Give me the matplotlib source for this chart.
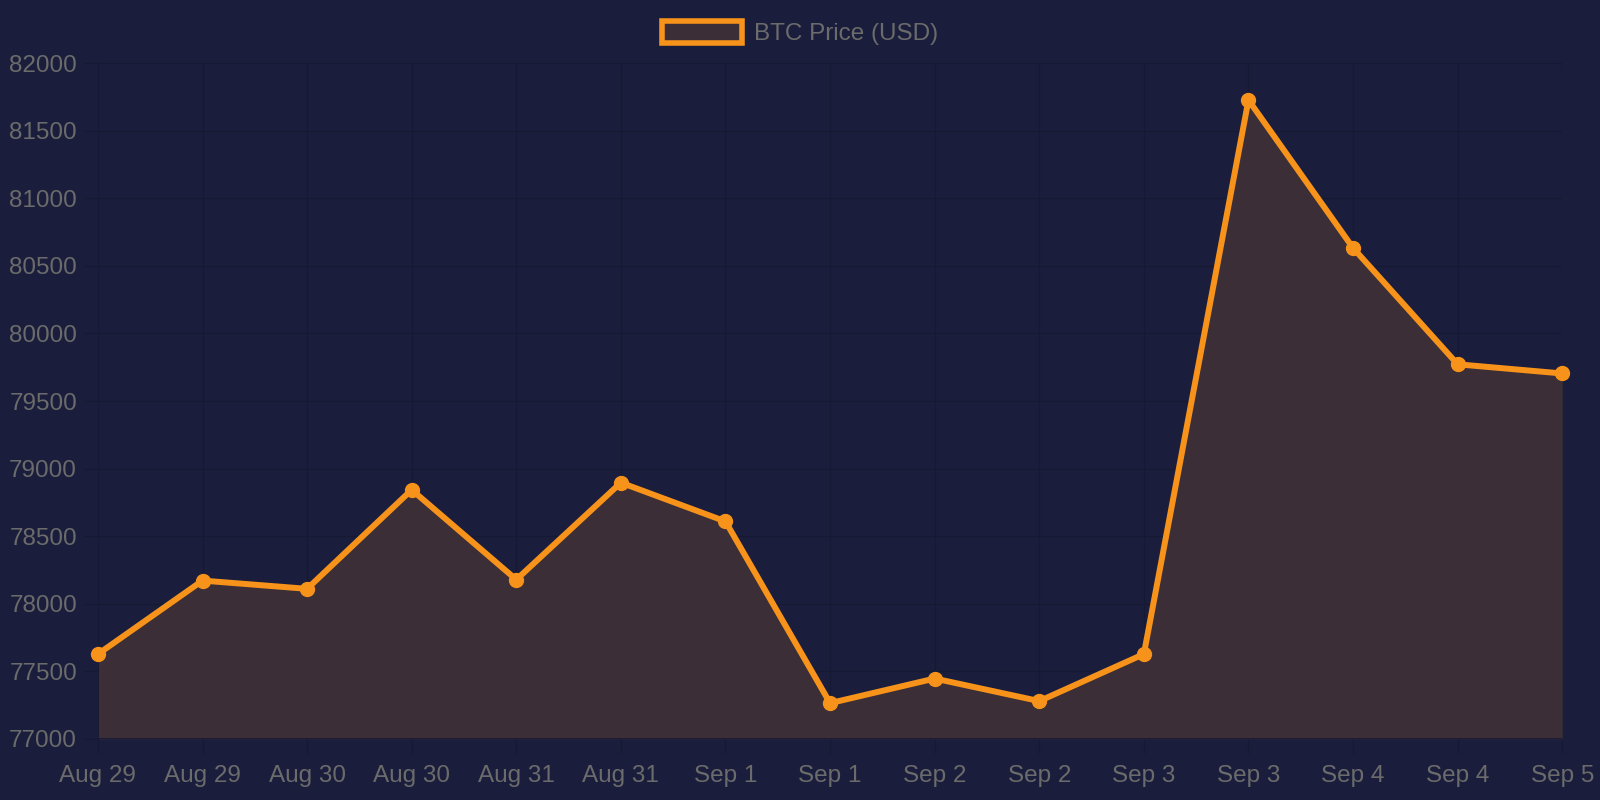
import matplotlib.pyplot as plt
import numpy as np
from matplotlib.patches import Patch

plt.rcParams['font.family'] = ['Liberation Sans', 'DejaVu Sans']

labels = ['Aug 29', 'Aug 29', 'Aug 30', 'Aug 30', 'Aug 31', 'Aug 31', 'Sep 1', 'Sep 1',
          'Sep 2', 'Sep 2', 'Sep 3', 'Sep 3', 'Sep 4', 'Sep 4', 'Sep 5']
prices = [77627, 78171, 78110, 78843, 78178, 78896, 78609, 77264,
          77446, 77279, 77627, 81728, 80633, 79772, 79704]
y_ticks = np.arange(77000, 82001, 500)

bg = '#1a1e3c'
orange = '#f7931a'
fill = '#3b2e36'
text_c = '#6b6b6b'
grid_c = '#151933'

fig = plt.figure(figsize=(16, 8), dpi=100, facecolor=bg)
ax = fig.add_axes([0.0612, 0.0765, 0.9152, 0.8444])
ax.set_facecolor(bg)

x = np.arange(len(prices))
ax.fill_between(x, prices, 77000, color=fill, zorder=1, linewidth=0)
ax.plot(x, prices, color=orange, lw=4.3, marker='o', ms=10, zorder=3, clip_on=False)

ax.set_xlim(0, len(prices) - 1)
ax.set_ylim(77000, 82000)
ax.set_yticks(y_ticks)
ax.set_xticks(x)
ax.set_xticklabels(labels)

ax.grid(True, color=grid_c, lw=1)
ax.set_axisbelow(True)
for s in ax.spines.values():
    s.set_visible(False)
ax.axvline(0, color=grid_c, lw=1.2, zorder=2)
ax.axhline(77000, color=grid_c, lw=1.2, zorder=2)

ax.tick_params(colors=grid_c, labelcolor=text_c, labelsize=17.5, length=10, width=1)
ax.tick_params(axis='x', pad=9)
ax.tick_params(axis='y', pad=5)

# legend box like chart.js
h = Patch(facecolor=fill, edgecolor=orange, linewidth=4, label='BTC Price (USD)')
fig.legend(handles=[h], loc='center', bbox_to_anchor=(0.5, 0.959), frameon=False,
           fontsize=17.5, handlelength=3.3, handleheight=1.05, handletextpad=0.5,
           labelcolor=text_c)

fig.savefig('out.png', dpi=100, facecolor=bg)
